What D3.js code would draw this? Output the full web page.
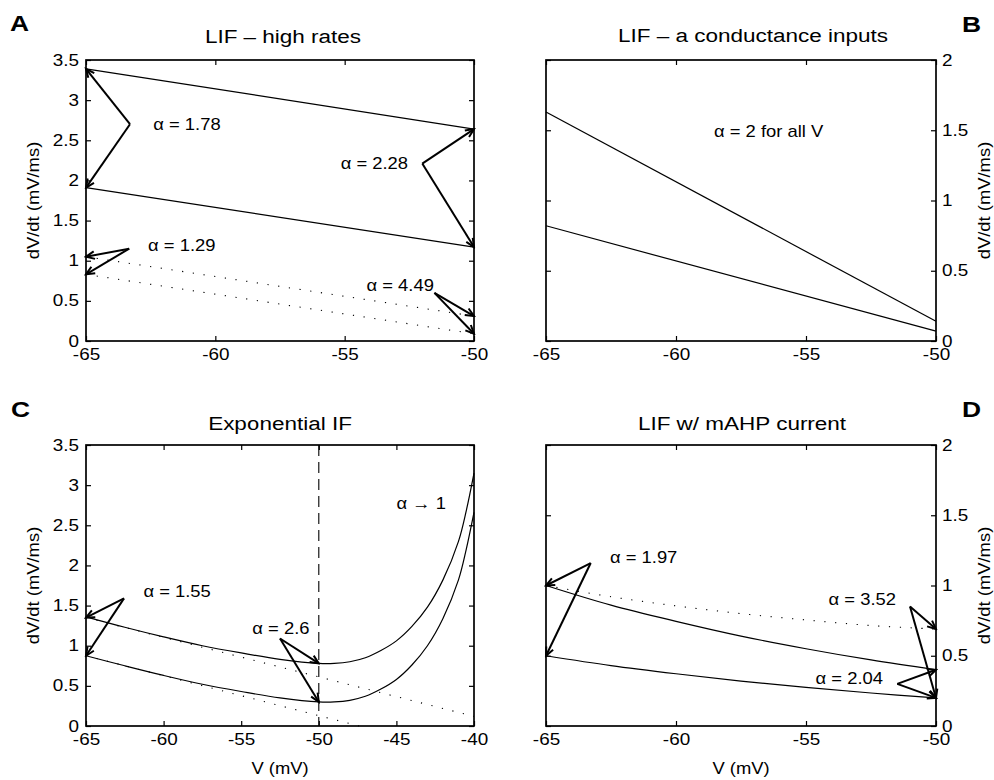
<!DOCTYPE html>
<html>
<head>
<meta charset="utf-8">
<script src="https://cdn.jsdelivr.net/npm/d3@7"></script>
<style>
  body { margin: 0; background: #fff; }
  text { font-family: "Liberation Sans", Arial, Helvetica, sans-serif; fill: #000; }
</style>
</head>
<body>
<div id="chart"></div>
<script>
// ---- values ----
// A: LIF - high rates (straight lines, endpoints at -65 and -50 mV)
const vA = [-65, -50];
const aSolidHigh = [3.39, 2.64];
const aSolidLow = [1.91, 1.17];
const aDotHigh = [1.05, 0.31];
const aDotLow = [0.83, 0.09];

// B: LIF - conductance inputs
const vB = [-65, -50];
const bSolidHigh = [1.63, 0.14];
const bSolidLow = [0.82, 0.07];

// C: exponential IF
const vC = [-65, -62.5, -60, -57.5, -55, -52.5, -50, -49, -48, -47, -46, -45, -44, -43, -42, -41, -40.5, -40];
const cUpper = [1.36, 1.23, 1.11, 1.00, 0.91, 0.83, 0.78, 0.78, 0.80, 0.85, 0.94, 1.06, 1.24, 1.48, 1.82, 2.30, 2.68, 3.15];
const cLower = [0.875, 0.75, 0.63, 0.52, 0.43, 0.35, 0.30, 0.30, 0.32, 0.37, 0.46, 0.58, 0.76, 1.00, 1.34, 1.82, 2.20, 2.66];
const vCDotHigh = [-65, -40];
const cDotHigh = [1.35, 0.12];
const vCDotLow = [-65, -47.4];
const cDotLow = [0.875, 0];
const cThreshold = -50;

// D: LIF w/ mAHP current
const vD = [-65, -62.5, -60, -57.5, -55, -52.5, -50];
const dUpper = [1.00, 0.86, 0.745, 0.64, 0.55, 0.47, 0.40];
const dLower = [0.50, 0.43, 0.372, 0.32, 0.275, 0.235, 0.20];
const dDotted = [1.00, 0.92, 0.855, 0.80, 0.755, 0.715, 0.69];

// tick values
const xTicksLIF = [-65, -60, -55, -50];
const xTicksEIF = [-65, -60, -55, -50, -45, -40];
const yTicks35 = [0, 0.5, 1, 1.5, 2, 2.5, 3, 3.5];
const yTicks2 = [0, 0.5, 1, 1.5, 2];

// annotations: label position, arrow tail, arrow heads (data coords)
const notesA = [
  { text: "\u03b1 = 1.78", x: -62.4, y: 2.70, anchor: "start", tail: [-63.3, 2.70], heads: [[-65, 3.39], [-65, 1.91]] },
  { text: "\u03b1 = 2.28", x: -52.55, y: 2.21, anchor: "end", tail: [-52.0, 2.21], heads: [[-50, 2.64], [-50, 1.17]] },
  { text: "\u03b1 = 1.29", x: -62.6, y: 1.19, anchor: "start", tail: [-63.33, 1.15], heads: [[-65, 1.05], [-65, 0.83]] },
  { text: "\u03b1 = 4.49", x: -51.55, y: 0.69, anchor: "end", tail: [-51.53, 0.60], heads: [[-50, 0.31], [-50, 0.09]] }
];
const notesB = [
  { text: "\u03b1 = 2 for all V", x: -58.54, y: 1.49, anchor: "start" }
];
const notesC = [
  { text: "\u03b1 = 1.55", x: -61.3, y: 1.68, anchor: "start", tail: [-62.55, 1.59], heads: [[-65, 1.35], [-65, 0.875]] },
  { text: "\u03b1 = 2.6", x: -54.28, y: 1.22, anchor: "start", tail: [-52.5, 1.09], heads: [[-50, 0.78], [-50, 0.30]] },
  { text: "\u03b1 \u2192 1", x: -45.0, y: 2.77, anchor: "start" }
];
const notesD = [
  { text: "\u03b1 = 1.97", x: -62.54, y: 1.20, anchor: "start", tail: [-63.28, 1.16], heads: [[-65, 1.0], [-65, 0.5]] },
  { text: "\u03b1 = 3.52", x: -51.54, y: 0.90, anchor: "end", tail: [-51.0, 0.85], heads: [[-50, 0.69], [-50, 0.20]] },
  { text: "\u03b1 = 2.04", x: -52.04, y: 0.34, anchor: "end", tail: [-51.49, 0.30], heads: [[-50, 0.40], [-50, 0.20]] }
];

const zip = (xs, ys) => xs.map((x, i) => [x, ys[i]]);

// ---- layout ----
const width = 994, height = 780;
const SX = 1.15;     // the original font is set wider than Liberation Sans
const TICK_SX = 1.18;

const svg = d3.select("#chart").append("svg")
  .attr("width", width)
  .attr("height", height);

const defs = svg.append("defs");
defs.append("marker")
  .attr("id", "head")
  .attr("markerUnits", "userSpaceOnUse")
  .attr("viewBox", "-11 -6 13 12")
  .attr("markerWidth", 13)
  .attr("markerHeight", 12)
  .attr("refX", 0)
  .attr("refY", 0)
  .attr("orient", "auto")
  .append("path")
  .attr("d", "M-8.5,-3.8L0,0L-8.5,3.8")
  .attr("fill", "none")
  .attr("stroke", "#000")
  .attr("stroke-width", 2);

function label(g, x, y, str, o) {
  return g.append("text")
    .attr("transform", `translate(${x},${y})${o.rotate ? " rotate(-90)" : ""} scale(${o.sx || SX},1)`)
    .attr("text-anchor", o.anchor || "middle")
    .attr("dy", o.dy || 0)
    .style("font-size", (o.size || 16) + "px")
    .style("font-weight", o.bold ? "bold" : "normal")
    .text(str);
}

function stretchTicks(sel) {
  sel.selectAll(".tick text").each(function () {
    const t = d3.select(this);
    const x = +t.attr("x") || 0, y = +t.attr("y") || 0;
    t.attr("x", null).attr("y", null)
      .attr("transform", `translate(${x},${y}) scale(${TICK_SX},1)`)
      .style("font-size", "16px");
  });
}

const panels = [
  { left: 86, right: 474, top: 60, bottom: 341, xd: [-65, -50], yd: [0, 3.5], xt: xTicksLIF, yt: yTicks35, side: "left",
    title: "LIF \u2013 high rates", titleX: 283, titleY: 43, letter: "A", letterX: 10, letterY: 31, xlabel: false,
    solid: [zip(vA, aSolidHigh), zip(vA, aSolidLow)], dotted: [zip(vA, aDotHigh), zip(vA, aDotLow)], notes: notesA },
  { left: 546, right: 936, top: 60, bottom: 341, xd: [-65, -50], yd: [0, 2], xt: xTicksLIF, yt: yTicks2, side: "right",
    title: "LIF  \u2013 a conductance inputs", titleX: 753, titleY: 42, letter: "B", letterX: 962, letterY: 32, xlabel: false,
    solid: [zip(vB, bSolidHigh), zip(vB, bSolidLow)], dotted: [], notes: notesB },
  { left: 86, right: 474, top: 445, bottom: 726, xd: [-65, -40], yd: [0, 3.5], xt: xTicksEIF, yt: yTicks35, side: "left",
    title: "Exponential IF", titleX: 280, titleY: 430, letter: "C", letterX: 11, letterY: 417, xlabel: true,
    solid: [zip(vC, cUpper), zip(vC, cLower)], dotted: [zip(vCDotHigh, cDotHigh), zip(vCDotLow, cDotLow)], notes: notesC,
    vline: cThreshold },
  { left: 546, right: 936, top: 445, bottom: 726, xd: [-65, -50], yd: [0, 2], xt: xTicksLIF, yt: yTicks2, side: "right",
    title: "LIF w/ mAHP current", titleX: 742, titleY: 430, letter: "D", letterX: 962, letterY: 417, xlabel: true,
    solid: [zip(vD, dUpper), zip(vD, dLower)], dotted: [zip(vD, dDotted)], notes: notesD }
];

panels.forEach(p => {
  const x = d3.scaleLinear().domain(p.xd).range([p.left, p.right]);
  const y = d3.scaleLinear().domain(p.yd).range([p.bottom, p.top]);
  const g = svg.append("g");
  const line = d3.line().x(d => x(d[0])).y(d => y(d[1])).curve(d3.curveCatmullRom);

  // reference line (threshold)
  if (p.vline !== undefined) {
    g.append("line")
      .attr("x1", x(p.vline)).attr("x2", x(p.vline))
      .attr("y1", p.top).attr("y2", p.bottom)
      .attr("stroke", "#000").attr("stroke-width", 1.1)
      .attr("stroke-dasharray", "11,6");
  }

  g.selectAll(".dot-line").data(p.dotted).enter().append("path")
    .attr("d", line)
    .attr("fill", "none").attr("stroke", "#000").attr("stroke-width", 1.1)
    .attr("stroke-dasharray", "1.2,9.6");

  g.selectAll(".solid-line").data(p.solid).enter().append("path")
    .attr("d", line)
    .attr("fill", "none").attr("stroke", "#000").attr("stroke-width", 1.2);

  // axes: ticks point inward on all four sides
  const bottom = g.append("g").attr("transform", `translate(0,${p.bottom})`)
    .call(d3.axisBottom(x).tickValues(p.xt).tickSizeInner(-5).tickSizeOuter(0).tickPadding(8).tickFormat(d => String(d)));
  stretchTicks(bottom);
  g.append("g").attr("transform", `translate(0,${p.top})`)
    .call(d3.axisTop(x).tickValues(p.xt).tickSizeInner(-5).tickSizeOuter(0).tickFormat(""));

  const yl = d3.axisLeft(y).tickValues(p.yt).tickSizeInner(-5).tickSizeOuter(0).tickPadding(7);
  const yr = d3.axisRight(y).tickValues(p.yt).tickSizeInner(-5).tickSizeOuter(0).tickPadding(6);
  const left = g.append("g").attr("transform", `translate(${p.left},0)`)
    .call(p.side === "left" ? yl.tickFormat(d => String(d)) : yl.tickFormat(""));
  const right = g.append("g").attr("transform", `translate(${p.right},0)`)
    .call(p.side === "right" ? yr.tickFormat(d => String(d)) : yr.tickFormat(""));
  stretchTicks(p.side === "left" ? left : right);

  g.selectAll(".domain").remove();
  g.selectAll(".tick line").attr("stroke-width", 1.2);

  g.append("rect")
    .attr("x", p.left).attr("y", p.top)
    .attr("width", p.right - p.left).attr("height", p.bottom - p.top)
    .attr("fill", "none").attr("stroke", "#000").attr("stroke-width", 1.7);

  // arrows and their labels
  p.notes.forEach(n => {
    (n.heads || []).forEach(h => {
      g.append("line")
        .attr("x1", x(n.tail[0])).attr("y1", y(n.tail[1]))
        .attr("x2", x(h[0])).attr("y2", y(h[1]))
        .attr("stroke", "#000").attr("stroke-width", 2)
        .attr("marker-end", "url(#head)");
    });
    label(g, x(n.x), y(n.y), n.text, { anchor: n.anchor, dy: "0.35em" });
  });

  // titles, axis labels, panel letters
  label(g, p.titleX, p.titleY, p.title, { size: 18, sx: 1.25 });
  if (p.side === "left") {
    label(g, 39, (p.top + p.bottom) / 2, "dV/dt (mV/ms)", { rotate: true });
  } else {
    label(g, 990, (p.top + p.bottom) / 2, "dV/dt (mV/ms)", { rotate: true });
  }
  if (p.xlabel) {
    label(g, (p.left + p.right) / 2, 774, "V (mV)", {});
  }
  label(g, p.letterX, p.letterY, p.letter, { anchor: "start", size: 22, bold: true, sx: 1.2 });
});
</script>
</body>
</html>
